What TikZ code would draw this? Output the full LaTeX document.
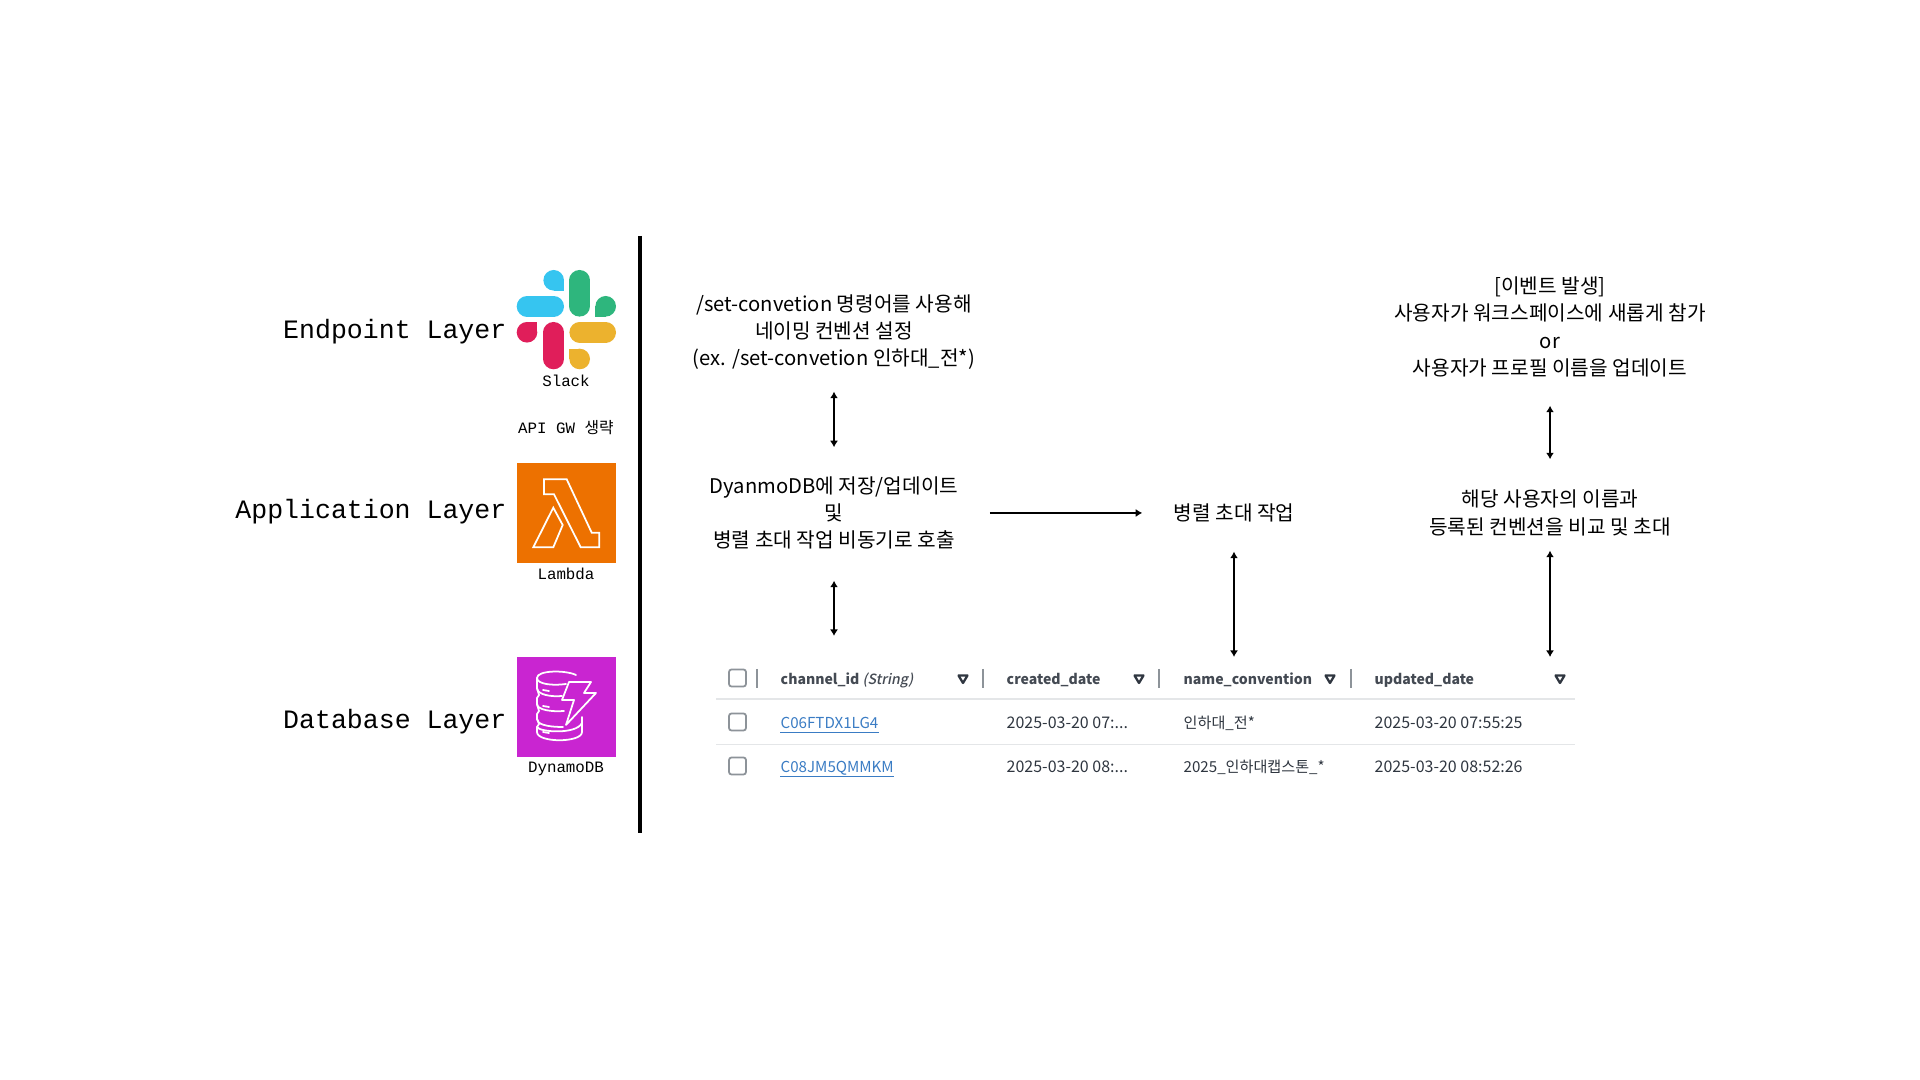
\documentclass[tikz,border=0pt]{standalone}
\usepackage{fontspec}
\usepackage{xcolor}
\setmainfont{Noto Sans CJK KR}
\setmonofont{Liberation Mono}
\newfontface\headslant[FakeSlant=0.2]{Noto Sans CJK KR Medium}
\usetikzlibrary{arrows.meta}
\usetikzlibrary{calc}
\definecolor{slackblue}{HTML}{36C5F0}
\definecolor{slackgreen}{HTML}{2EB67D}
\definecolor{slackred}{HTML}{E01E5A}
\definecolor{slackyellow}{HTML}{ECB22E}
\definecolor{lambdaorange}{HTML}{ED7100}
\definecolor{dynamopurple}{HTML}{C925D1}
\definecolor{tabletext}{HTML}{2F3640}
\definecolor{tablelink}{HTML}{3A7CC4}
\definecolor{tablegray}{HTML}{8D9399}
\definecolor{tablerule}{HTML}{E4E6E8}
\newcommand{\slackdrop}[5]{\fill[#5] (#1,#2) circle (10.3); \fill[#5] (#1,#2) rectangle (#3,#4);}

\begin{document}
\begin{tikzpicture}[x=0.01cm,y=-0.01cm]
      \tikzset{
        layer label/.style={anchor=east, inner sep=0, font=\ttfamily\fontsize{7.55}{9}\selectfont},
        icon label/.style={inner sep=0, font=\ttfamily\fontsize{4.5}{6}\selectfont},
        note/.style={align=center, inner sep=0, font=\fontsize{5.75}{7.75}\selectfont},
        bi link/.style={{Latex[length=0.065cm,width=0.08cm]}-{Latex[length=0.065cm,width=0.08cm]}, line width=0.55pt},
        one link/.style={-{Latex[length=0.065cm,width=0.08cm]}, line width=0.55pt},
        icon line/.style={white, line width=0.5pt, line join=miter},
        slack pill/.style={line cap=round, line width=0.206cm},
        cell/.style={anchor=west, inner sep=0, text=tabletext, text height=3.4pt, text depth=1.1pt, font=\fontsize{4.3}{5}\selectfont},
        date cell/.style={cell, font=\fontsize{4.55}{5}\selectfont},
        head/.style={cell, text=tabletext!90, font=\fontsize{4}{5}\selectfont\bfseries},
        id link/.style={cell, text=tablelink},
        id rule/.style={tablelink, line width=0.35pt},
        check box/.style={draw=tablegray, line width=0.5pt, rounded corners=0.025cm},
        filter mark/.style={draw=tabletext, line width=0.65pt, line join=round},
        col bar/.style={draw=tablegray, line width=0.45pt},
        row rule/.style={draw=tablerule}
      }

      \def\colA{780}  % channel_id
      \def\colB{1006} % created_date
      \def\colC{1183} % name_convention
      \def\colD{1374} % updated_date
      \def\rowH{680}
      \def\rowA{724}
      \def\rowB{768}

      \path[fill=white, use as bounding box] (0,0) rectangle (1920,1080);

      % Layer labels
      \node[layer label] (endpoint) at (507,332) {Endpoint Layer};
      \node[layer label] (application) at (507,512) {Application Layer};
      \node[layer label] (database) at (507,722) {Database Layer};
      \draw[line width=1.1pt] (640,236) -- (640,833); % divider

      % Slack
      \draw[slack pill, slackblue] (527,306.3) -- (553.7,306.3);
      \slackdrop{553.7}{280.3}{564}{290.7}{slackblue}
      \draw[slack pill, slackgreen] (579.7,280.3) -- (579.7,306.3);
      \slackdrop{605.7}{306.3}{595.4}{316.7}{slackgreen}
      \draw[slack pill, slackred] (553.7,332.3) -- (553.7,359);
      \slackdrop{527}{332.3}{537.3}{322}{slackred}
      \draw[slack pill, slackyellow] (579.7,332.3) -- (605.7,332.3);
      \slackdrop{579.7}{359}{569.4}{348.6}{slackyellow}
      \node[icon label] (slack) at (566,381) {Slack};
      \node[icon label] (apigw) at (566,428) {API GW {\rmfamily 생략}};

      % Lambda
      \fill[lambdaorange] (516.5,463) rectangle (616,563);
      \draw[icon line] (544,479.3) -- (566.7,479.3) -- (591.7,532.7) -- (599.3,532.7) -- (599.3,547.3)
        -- (580.7,547.3) -- (554,494.3) -- (544,494.3) -- cycle;
      \draw[icon line] (553.3,507.7) -- (562.7,525) -- (553.3,547.3) -- (533.3,547.3) -- cycle;
      \node[icon label] (lambda) at (566,574) {Lambda};

      % DynamoDB
      \fill[dynamopurple] (516.5,657) rectangle (616,757);
      \begin{scope}[shift={(516,657)}]
        \draw[icon line, line cap=round] (60,18) .. controls (50,13) and (21,13) .. (21,21) .. controls (21,27) and (36,29) .. (50,27);
        \draw[icon line, line cap=round] (21,21) -- (21,31) .. controls (21,38) and (36,40) .. (46,39);
        \draw[icon line, line cap=round] (21,31) -- (23,38) -- (21,41) -- (21,47) .. controls (21,53) and (36,55) .. (48,54);
        \draw[icon line, line cap=round] (21,47) -- (23,54) -- (21,57) -- (21,62) .. controls (21,67) and (30,70) .. (47,70);
        \draw[icon line, line cap=round] (21,62) -- (23,67) -- (21,70) -- (21,75) .. controls (21,86) and (66,86) .. (66,75) -- (66,60);
        \draw[icon line, line cap=round] (21,70) .. controls (23,75) and (60,78) .. (66,66);
        \draw[icon line, line cap=round] (27,33) -- (33,34) (27,49) -- (33,50) (27,75) -- (33,76);
        \draw[icon line, line join=round] (53,25) -- (75,25) -- (68,36) -- (80,36) -- (50,68) -- (58,43) -- (46,43) -- cycle;
      \end{scope}
      \node[icon label] (dynamodb) at (566,769) {DynamoDB};

      % Notes
      \node[note, minimum height=1.18cm] (setcmd) at (834,332) {/set-convetion 명령어를 사용해\\네이밍 컨벤션 설정\\(ex. /set-convetion 인하대\_전*)};
      \node[note, minimum height=1.3cm, minimum width=3.1cm] (store) at (834,513) {DyanmoDB에 저장/업데이트\\및\\병렬 초대 작업 비동기로 호출};
      \node[note, minimum height=0.76cm, minimum width=1.82cm] (invite) at (1234,513) {병렬 초대 작업};
      \node[note, minimum height=1.56cm] (event) at (1550,327) {[이벤트 발생]\\사용자가 워크스페이스에 새롭게 참가\\or\\사용자가 프로필 이름을 업데이트};
      \node[note, minimum height=0.74cm] (compare) at (1550,513) {해당 사용자의 이름과\\등록된 컨벤션을 비교 및 초대};

      \coordinate (tableA) at (834,636);
      \coordinate (tableB) at (1234,657);
      \coordinate (tableC) at (1550,657);

      % Connectors
      \draw[bi link] (setcmd) -- (store);
      \draw[bi link, shorten <=0.02cm] (store) -- (tableA);
      \draw[one link] (store) -- (invite);
      \draw[bi link] (invite) -- (tableB);
      \draw[bi link, shorten >=0.16cm] (event) -- (compare);
      \draw[bi link] (compare) -- (tableC);

      % Table
      \draw[row rule, line width=0.5pt] (716,699) -- (1575,699);
      \draw[row rule, line width=0.25pt] (716,744) -- (1575,744);
      \foreach \y in {678,722,766}{
          \draw[check box] (729,\y-8.5) rectangle (746,\y+8.5);
        }
      \foreach \x in {757,983,1159,1351}{
          \draw[col bar] (\x,669) -- (\x,688);
        }
      \foreach \x in {963,1139,1330,1560}{
          \draw[filter mark] (\x-4.5,679-3.5) -- (\x+4.5,679-3.5) -- (\x,679+4) -- cycle;
        }

      \node[head] (hdid) at (\colA,\rowH) {channel\_id {\headslant (String)}};
      \node[head] (hdcreated) at (\colB,\rowH) {created\_date};
      \node[head] (hdname) at (\colC,\rowH) {name\_convention};
      \node[head] (hdupdated) at (\colD,\rowH) {updated\_date};

      \node[id link] (idA) at (\colA,\rowA) {C06FTDX1LG4};
      \node[date cell] (createdA) at (\colB,\rowA) {2025-03-20 07:...};
      \node[cell] (nameA) at (\colC,\rowA) {인하대\_전*};
      \node[date cell] (updatedA) at (\colD,\rowA) {2025-03-20 07:55:25};

      \node[id link] (idB) at (\colA,\rowB) {C08JM5QMMKM};
      \node[date cell] (createdB) at (\colB,\rowB) {2025-03-20 08:...};
      \node[cell] (nameB) at (\colC,\rowB) {2025\_인하대캡스톤\_*};
      \node[date cell] (updatedB) at (\colD,\rowB) {2025-03-20 08:52:26};

      \draw[id rule] (idA.south west) -- (idA.south east);
      \draw[id rule] (idB.south west) -- (idB.south east);
    \end{tikzpicture}
\end{document}
